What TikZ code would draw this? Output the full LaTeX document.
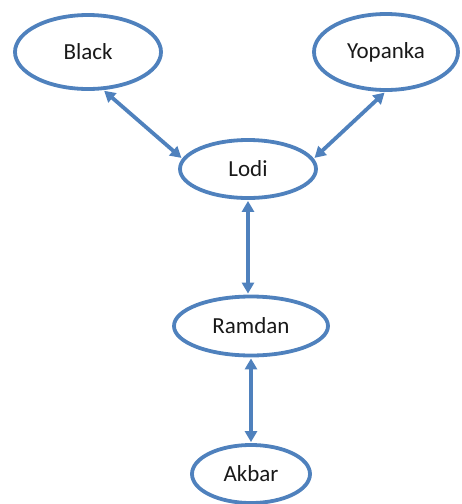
\documentclass[tikz,border=0pt]{standalone}
\usepackage{fontspec}
\setmainfont{Carlito}
\usetikzlibrary{shapes.geometric,arrows.meta}
\definecolor{ebl}{RGB}{79,129,189}
\tikzset{
  person/.style={ellipse, draw=ebl, line width=3.8pt, inner sep=0pt, font=\fontsize{23}{27}\selectfont, text=black!90},
  link/.style={draw=ebl, line width=3.8pt, {Triangle[length=11pt,width=12pt]}-{Triangle[length=11pt,width=12pt]}, shorten <=1pt, shorten >=1pt}
}
\begin{document}
\begin{tikzpicture}[x=1pt,y=1pt]
\useasboundingbox (0,0) rectangle (462,-504);
\node[person, minimum width=146pt, minimum height=74pt] (black) at (88,-52) {Black};
\node[person, minimum width=144pt, minimum height=76pt] (yop) at (386,-52) {Yopanka};
\node[person, minimum width=136pt, minimum height=58pt] (lodi) at (248,-169) {Lodi};
\node[person, minimum width=154pt, minimum height=59pt] (ram) at (251,-326) {Ramdan};
\node[person, minimum width=118pt, minimum height=58pt] (akbar) at (251,-474) {Akbar};
\draw[link] (black.-68) -- (lodi.171);
\draw[link] (yop.-91) -- (lodi.9);
\draw[link] (lodi.south) -- (lodi.south |- ram.north);
\draw[link] (ram.south) -- (akbar.north);
\end{tikzpicture}
\end{document}
